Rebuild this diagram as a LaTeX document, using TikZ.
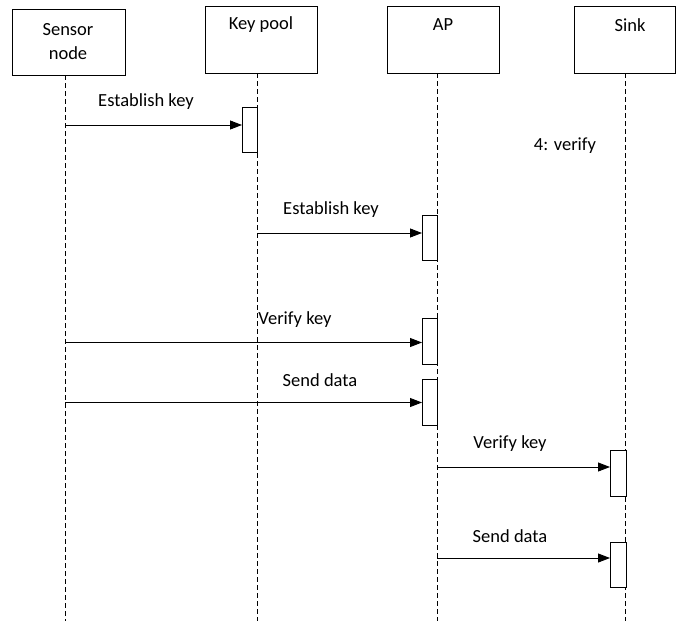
\documentclass[tikz,border=0pt]{standalone}
\usepackage{fontspec}
\setmainfont{Carlito}
\usetikzlibrary{arrows.meta}
\begin{document}
\begin{tikzpicture}[x=1pt,y=-1pt,
  every node/.style={font=\fontsize{18.5}{22}\selectfont, inner sep=0pt},
  actor/.style={draw, line width=0.9pt, minimum width=0pt},
  life/.style={dash pattern=on 5pt off 3pt, line width=0.9pt},
  act/.style={draw, fill=white, line width=0.9pt},
  msg/.style={line width=0.9pt, -{Triangle[length=12pt,width=9pt]}},
  lbl/.style={}]
\useasboundingbox (0,0) rectangle (676,621);
% actor boxes
\draw[actor] (12,9) rectangle (125,75);
\draw[actor] (205,6) rectangle (317,73);
\draw[actor] (387,6) rectangle (499,73);
\draw[actor] (574,6) rectangle (675,73);
\node (t1) at (68,30) {Sensor};
\node (t1b) at (68,53) {node};
\node (t2) at (261,25) {Key pool};
\node (t3) at (443,25) {AP};
\node (t4) at (630,25) {Sink};
% lifeline coordinates
\coordinate (s0) at (65,75);   \coordinate (s1) at (65,621);
\coordinate (k0) at (257,73);  \coordinate (k1) at (257,621);
\coordinate (a0) at (437,73);  \coordinate (a1) at (437,621);
\coordinate (n0) at (625.5,73);\coordinate (n1) at (625.5,621);
\draw[life] (s0) -- (s1);
\draw[life] (k0) -- (k1);
\draw[life] (a0) -- (a1);
\draw[life] (n0) -- (n1);
% activation boxes
\node[act, minimum width=15pt, minimum height=45pt, anchor=north west] (b1) at (242,107) {};
\node[act, minimum width=15pt, minimum height=45pt, anchor=north west] (b2) at (422,215) {};
\node[act, minimum width=15pt, minimum height=46pt, anchor=north west] (b3) at (422,318) {};
\node[act, minimum width=15pt, minimum height=46pt, anchor=north west] (b4) at (422,379) {};
\node[act, minimum width=15.5pt, minimum height=46pt, anchor=north west] (b5) at (610,450) {};
\node[act, minimum width=15.5pt, minimum height=45pt, anchor=north west] (b6) at (610,542) {};
% message start points
\coordinate (m1) at (65,125);
\coordinate (m2) at (257,233);
\coordinate (m3) at (65,342.5);
\coordinate (m4) at (65,402.5);
\coordinate (m5) at (437,467);
\coordinate (m6) at (437,558);
\draw[msg] (m1) -- (m1 -| b1.west);
\draw[msg] (m2) -- (m2 -| b2.west);
\draw[msg] (m3) -- (m3 -| b3.west);
\draw[msg] (m4) -- (m4 -| b4.west);
\draw[msg] (m5) -- (m5 -| b5.west);
\draw[msg] (m6) -- (m6 -| b6.west);
% labels
\node (l1) at (146,102) {Establish key};
\node (l2) at (331,210) {Establish key};
\node (l3) at (295,320) {Verify key};
\node (l4) at (320,380) {Send data};
\node (l5) at (510,444) {Verify key};
\node (l6) at (510,536) {Send data};
\node (l7) at (565,146) {4: verify};
\end{tikzpicture}
\end{document}
